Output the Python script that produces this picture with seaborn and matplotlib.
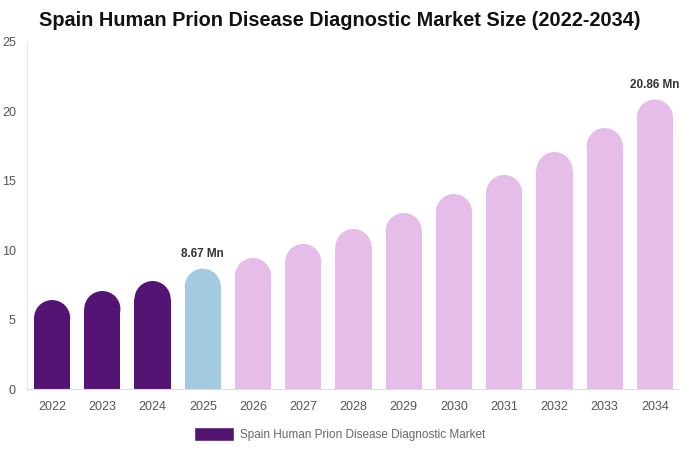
import matplotlib
matplotlib.use("Agg")
import matplotlib.pyplot as plt
from matplotlib.patches import Ellipse, Patch
import pandas as pd
import seaborn as sns

years = ["2022", "2023", "2024", "2025", "2026", "2027", "2028",
         "2029", "2030", "2031", "2032", "2033", "2034"]
values = [6.41, 7.06, 7.78, 8.67, 9.44, 10.45, 11.53, 12.68, 14.05, 15.42, 17.07, 18.80, 20.86]
segments = ["hist", "hist", "hist", "base"] + ["forecast"] * 9
labelled = {"2025": "8.67 Mn", "2034": "20.86 Mn"}

palette = {"hist": "#541474", "base": "#a4cadf", "forecast": "#e6bde8"}

df = pd.DataFrame({"year": years, "value": values, "segment": segments})

sns.set_style("white")
plt.rcParams["font.family"] = ["Liberation Sans", "DejaVu Sans"]

fig = plt.figure(figsize=(6.8, 4.5), dpi=100)
ax = fig.add_axes([27 / 680, 61 / 450, 653 / 680, 347 / 450])

sns.barplot(data=df, x="year", y="value", hue="segment", palette=palette,
            width=0.72, dodge=False, legend=False, saturation=1, ax=ax)

ax.set_xlim(-0.5, 12.5)
ax.set_ylim(0, 25)

# rounded tops: pixel radius = half bar width
px_per_x = 653 / 13.0
px_per_y = 347 / 25.0
for p in ax.patches:
    h = p.get_height()
    if h <= 0:
        continue
    w = p.get_width()
    ry = (w * px_per_x / 2) / px_per_y
    p.set_height(h - ry)
    p.set_linewidth(0)
    ax.add_patch(Ellipse((p.get_x() + w / 2, h - ry), w, 2 * ry,
                         facecolor=p.get_facecolor(), linewidth=0))

for i, y in enumerate(years):
    if y in labelled:
        ax.annotate(labelled[y], (i, values[i]), xytext=(0, 6), textcoords="offset points",
                    ha="center", va="bottom", fontsize=8.5, fontweight="bold", color="#333333")

ax.set_yticks([0, 5, 10, 15, 20, 25])
ax.tick_params(axis="both", length=0, labelsize=9, colors="#555555")
ax.tick_params(axis="x", pad=9)
ax.tick_params(axis="y", pad=8)
ax.set_xlabel("")
ax.set_ylabel("")
for s in ["top", "right"]:
    ax.spines[s].set_visible(False)
ax.spines["left"].set_color("#e6e6e6")
ax.spines["bottom"].set_color("#dddddd")

fig.suptitle("Spain Human Prion Disease Diagnostic Market Size (2022-2034)",
             x=0.5, y=0.975, fontsize=14.3, fontweight="bold", color="#111111")

fig.legend(handles=[Patch(facecolor=palette["hist"], label="Spain Human Prion Disease Diagnostic Market")],
           loc="center", bbox_to_anchor=(0.5, 1 - 434 / 450), frameon=False,
           fontsize=8.5, handlelength=3.4, handleheight=1.4, handletextpad=0.5,
           labelcolor="#666666")

fig.savefig("out.png", dpi=100)
